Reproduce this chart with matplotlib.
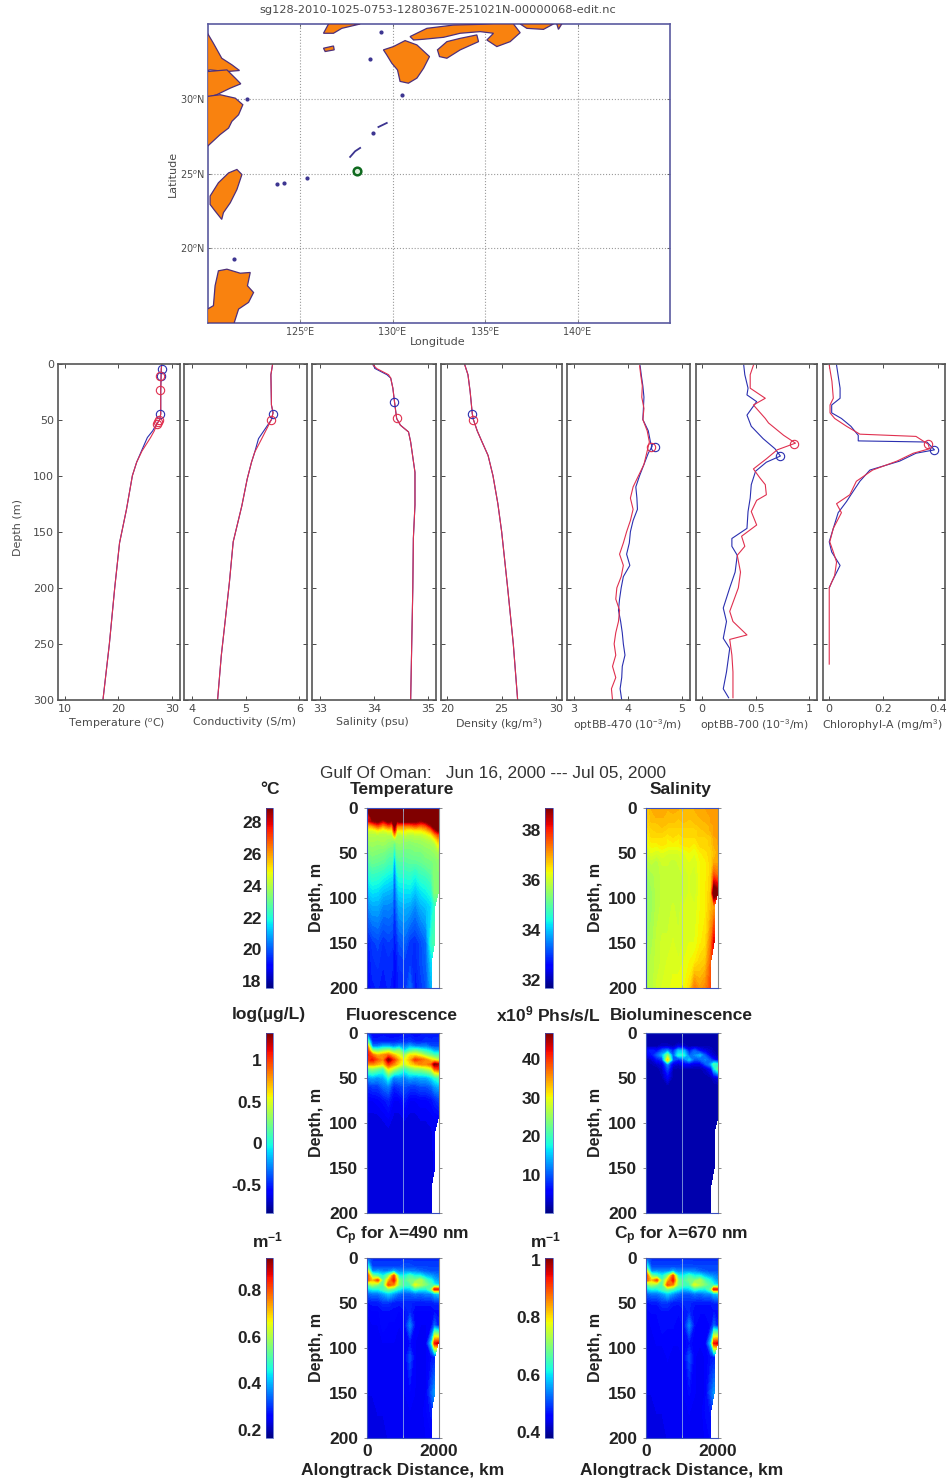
import numpy as np
import matplotlib
matplotlib.use("Agg")
import matplotlib.pyplot as plt
from matplotlib.cm import ScalarMappable
from matplotlib.colors import Normalize

plt.rcParams['font.family'] = ['Liberation Sans', 'DejaVu Sans']
plt.rcParams['mathtext.fontset'] = 'custom'
plt.rcParams['mathtext.rm'] = 'Liberation Sans'
plt.rcParams['mathtext.it'] = 'Liberation Sans:italic'
plt.rcParams['mathtext.bf'] = 'Liberation Sans:bold'

W, H = 947, 1481

# ---------- map data (lon, lat) ----------
land_n1_lon = [120.00,120.32,120.77,121.32,121.73,121.05,120.14,120.00]
land_n1_lat = [34.38,33.71,32.71,32.27,31.89,31.82,31.93,31.89]
land_n2_lon = [120.00,121.05,121.50,121.80,121.23,120.50,120.00]
land_n2_lat = [31.82,31.93,31.38,31.00,30.71,30.27,30.09]
land_n3_lon = [120.00,120.68,121.50,121.91,121.68,121.32,121.14,120.68,120.00]
land_n3_lat = [30.16,30.27,30.04,29.60,28.93,28.49,28.04,27.60,26.82]
taiwan_lon = [120.14,120.59,121.14,121.59,121.86,121.59,121.23,120.86,120.77,120.41,120.14]
taiwan_lat = [23.49,24.38,25.04,25.27,24.93,23.93,23.04,22.38,21.93,22.49,22.93]
luzon_lon = [120.59,121.05,121.77,122.31,122.16,122.49,122.22,121.68,121.44,120.00,120.00,120.32,120.41]
luzon_lat = [18.49,18.60,18.33,18.38,17.49,17.04,16.38,15.93,15.00,15.00,15.93,16.16,17.49]
kyushu_lon = [129.51,130.05,130.68,131.32,132.00,131.68,131.32,130.86,130.41,130.27,129.96,129.69]
kyushu_lat = [33.27,33.49,33.89,33.60,32.82,32.04,31.38,31.04,31.16,31.93,32.38,32.93]
honshu_lon = [130.95,131.86,133.30,135.46,136.54,136.90,136.36,135.64,135.10,135.46,134.74,133.66,132.76,131.68,131.14]
honshu_lat = [34.16,34.71,34.93,35.00,35.00,34.42,33.82,33.49,33.93,34.38,34.49,34.38,34.11,33.98,33.93]
shikoku_lon = [132.43,132.94,133.66,134.56,134.65,133.66,132.94,132.54]
shikoku_lat = [33.27,33.82,34.04,34.27,33.82,33.27,32.71,32.82]
korea_lon = [126.27,126.54,128.25,127.26,126.81]
korea_lat = [34.38,35.00,35.00,34.71,34.38]
jeju_lon = [126.27,126.81,126.85,126.36]
jeju_lat = [33.38,33.53,33.27,33.16]
kii_lon = [136.90,138.70,138.16,137.26]
kii_lat = [35.00,35.00,34.64,34.71]
izu_lon = [138.88,139.15,138.97]
izu_lat = [35.00,35.00,34.64]
isl_lon = [128.76,130.54,122.13,128.97,123.78,124.14,121.44,125.37,129.39]
isl_lat = [32.64,30.27,30.00,27.71,24.31,24.38,19.31,24.71,34.49]
okinawa_lon = [127.71,127.98,128.25]
okinawa_lat = [26.11,26.49,26.71]
amami_lon = [129.24,129.69]
amami_lat = [28.11,28.38]
glider_lon, glider_lat = [128.06], [25.17]

# ---------- profile data ----------
temp_depth = [0,5,24,45,50,55,60,66,78,88,100,130,160,200,250,300]
temp_blue = [28.1,28.0,27.9,27.9,27.7,27.0,26.4,25.4,24.3,23.4,22.6,21.5,20.2,19.3,18.3,17.1]
temp_red = [28.1,28.0,27.9,27.9,27.7,27.1,26.7,26.0,24.4,23.4,22.6,21.5,20.2,19.3,18.3,17.1]
temp_mark_blue = ([28.1,27.9,27.7], [5,11,45])
temp_mark_red = ([27.7,27.8,27.6,27.3,27.2], [11,24,50,52,54])
cond_depth = [1,10,37,44,50,67,79,88,103,127,159,195,230,260,300]
cond_blue = [5.50,5.47,5.48,5.51,5.48,5.24,5.17,5.11,5.03,4.93,4.77,4.70,4.62,4.55,4.48]
cond_red = [5.50,5.47,5.48,5.51,5.48,5.30,5.17,5.11,5.03,4.93,4.77,4.70,4.62,4.55,4.48]
cond_mark_blue = ([5.51], [45])
cond_mark_red = ([5.48], [50])
sal_depth = [1,4.5,10,13,22,34,49,55,61,70,97,126,156,200,300]
sal_blue = [33.98,34.02,34.24,34.31,34.35,34.38,34.42,34.49,34.64,34.68,34.76,34.76,34.73,34.72,34.68]
sal_red = [33.98,34.05,34.27,34.31,34.35,34.38,34.42,34.49,34.64,34.68,34.76,34.76,34.73,34.72,34.68]
sal_mark_blue = ([34.38], [34])
sal_mark_red = ([34.42], [49])
dens_depth = [1,10,25,45,50,60,70,82,100,125,150,200,250,300]
dens_values = [21.6,21.9,22.1,22.3,22.4,22.75,23.2,23.75,24.2,24.65,25.0,25.55,26.07,26.47]
dens_mark_blue = ([22.3], [45])
dens_mark_red = ([22.4], [50])
bb470_blue_d = [2,10,20,30,40,50,60,70,74,80,90,100,110,120,130,140,150,160,170,180,190,200,210,220,230,240,250,260,270,280,290,300]
bb470_blue = [4.23,4.25,4.28,4.30,4.29,4.28,4.38,4.42,4.45,4.38,4.30,4.22,4.15,4.17,4.18,4.10,4.05,4.03,3.98,4.04,3.92,3.88,3.85,3.83,3.87,3.90,3.92,3.95,3.90,3.89,3.86,3.89]
bb470_red = [4.22,4.24,4.27,4.26,4.30,4.28,4.36,4.40,4.38,4.35,4.30,4.20,4.10,4.05,4.10,4.05,3.98,3.92,3.85,3.92,3.88,3.80,3.78,3.85,3.83,3.78,3.75,3.78,3.72,3.78,3.70,3.72]
bb470_mark_blue = ([4.50], [74])
bb470_mark_red = ([4.43], [74])
bb700_red_d = [1.5,10,22,31,37,49,53,64,71,77,85,94,102,108,117,122,132,144,154,163,171,186,200,221,230,242,246,260,275,290,298]
bb700_red = [.48,.45,.45,.59,.48,.59,.62,.76,.87,.70,.60,.48,.54,.59,.60,.51,.46,.51,.37,.40,.33,.36,.34,.26,.29,.42,.26,.28,.29,.29,.29]
bb700_blue_d = [1.5,10,22,28,34,46,56,67,76,82.5,88,96,108,120,132,147,156,163,171,186,200,218,230,245,254,275,290,298]
bb700_blue = [.39,.40,.43,.42,.51,.42,.46,.57,.68,.73,.60,.50,.46,.45,.43,.42,.28,.28,.33,.31,.26,.20,.23,.20,.26,.23,.20,.25]
bb700_mark_blue = ([.73], [82.5])
bb700_mark_red = ([.86], [72])
chl_blue_d = [1.5,22,31,37,44,49,56,64,69,70,77,80,87,95,105,117,123,133,147,159,168,180,195,200]
chl_blue = [.027,.04,.04,.009,.009,.045,.08,.107,.107,.36,.388,.32,.26,.15,.113,.08,.064,.033,.015,0,.009,.04,.009,0]
chl_red_d = [1.5,16,31,37,44,49,56,63,65,72,76,80,87,95,105,117,125,133,147,159,168,177,189,200,268]
chl_red = [.0,.01,.015,.003,.003,.02,.064,.113,.32,.365,.37,.31,.25,.16,.10,.076,.027,.045,.015,.002,.015,.027,.02,0,0]
chl_mark_blue = ([.388], [77])
chl_mark_red = ([.365], [72])
depth_ticks = [0,50,100,150,200,250,300]

# ---------- section data ----------
section_x = [0,150,300,450,600,750,900,1050,1200,1350,1500,1650,1800,1890,1990]
temperature_x = [0,150,300,450,600,700,770,840,900,1050,1200,1350,1500,1650,1800,1890,1990]
section_d = [0,10,15,20,25,30,35,40,50,60,75,95,110,150,170,200]
n = np.nan
temperature = [
 [29.5,29.5,29.5,29.5,29.5,29.5,29.5,29.5,29.5,29.5,29.5,29.5,29.5,29.5,29.5,29.5,29.5],
 [26.5,29.5,29.5,29.5,29.5,29.5,29.5,29.5,29.5,29.5,29.5,29.5,29.5,29.5,29.5,29.5,29.5],
 [27.5,28.5,29,28,29,28.5,29.5,28.5,29,29,29,29,28.5,29,29.5,29.5,29.5],
 [25.5,26,27,26,27,26.5,29,26.5,26.5,26.5,26.5,27,26.5,27,28.5,29.5,29.5],
 [24.5,24.5,25,24.5,25,25,28,25,25,25,24.8,25,25,25.5,26.5,28,29],
 [24,24,24,24,24,24,26,24,24,24.3,24,24.2,24.2,24.5,25,26,27],
 [23.8,23.9,23.8,23.9,23.7,23.7,24,23.8,23.8,23.7,23.7,23.8,23.8,24,24.2,24.8,25.8],
 [23.6,23.7,23.6,23.7,23.5,23.4,22.8,23.5,23.6,23.5,23.4,23.5,23.6,23.7,23.8,24,25],
 [23.1,23.4,23.3,23.2,22.9,22.9,21.8,23,23.1,23,23.1,23.2,23.2,23.4,23.5,23.6,23.8],
 [22.6,23,22.9,22.8,22.5,22.5,20.8,22.5,22.7,22.7,22.8,22.8,22.9,23.1,23.2,23.3,23.5],
 [21.9,22.3,22.2,22,21.8,21.7,20.2,21.7,22.1,22.1,22.2,21.9,22.3,22.4,22.7,23.4,23.4],
 [21.1,21.5,21.4,21.1,21,20.9,19.8,20.9,21.4,21.5,21.5,21.1,21.5,21.7,22,23.3,23.3],
 [20.5,20.9,20.9,20.5,20.5,20.4,19.6,20.4,20.9,21,20.9,20.5,21,21.2,21.5,22.2,n],
 [19.2,19.6,19.8,19.5,19.7,19.6,19.2,19.5,19.9,20.1,19.6,19.5,19.8,20.2,22.3,22.6,n],
 [19,19.5,19.6,19.4,19.5,19.4,19,19.3,19.6,19.7,19.6,19.4,19.8,20.1,21.5,n,n],
 [18.8,19.3,19.4,19.2,19.4,19.3,18.9,19.2,19.4,19.4,20.2,19.2,19.6,19.9,21,n,n]]
salinity = [
 [36.6,36.9,37,37,36.9,37,36.9,36.8,36.8,36.9,36.9,37,37,37,37],
 [36.6,36.8,36.9,36.9,36.8,36.8,36.8,36.8,36.8,36.8,36.9,36.9,37,37,37],
 [36.5,36.8,36.8,36.8,36.8,36.8,36.7,36.8,36.7,36.8,36.8,36.9,37,37,37],
 [36.5,36.7,36.7,36.8,36.7,36.7,36.7,36.7,36.7,36.7,36.8,36.8,36.9,37,37],
 [36.4,36.6,36.7,36.7,36.6,36.6,36.6,36.6,36.6,36.6,36.7,36.8,36.9,37,37],
 [36.3,36.6,36.6,36.6,36.5,36.6,36.5,36.6,36.6,36.6,36.7,36.7,36.8,37,37],
 [36.2,36.5,36.5,36.5,36.4,36.5,36.4,36.5,36.5,36.5,36.6,36.6,36.7,36.9,37],
 [36.2,36.4,36.4,36.5,36.4,36.4,36.4,36.5,36.5,36.4,36.6,36.6,36.7,36.9,37],
 [36,36.2,36.1,36.2,36.1,36.1,36.1,36.2,36.3,36.2,36.4,36.5,36.6,36.8,36.9],
 [35.8,35.9,35.8,36,36,35.9,36,36.1,36.2,36.1,36.3,36.4,36.6,36.9,36.9],
 [35.6,35.7,35.8,35.9,35.9,35.9,35.9,36,36.1,36,36.3,36.4,36.6,37.6,37.4],
 [35.5,35.6,35.8,35.9,35.9,35.9,35.9,36,36.1,36,36.3,36.4,36.7,39.5,39],
 [35.5,35.6,35.8,35.9,35.9,36,35.9,36.1,36.1,36.1,36.3,36.4,36.8,37,n],
 [35.6,35.7,35.9,36,36,36.1,36,36.1,36.2,36.2,36.4,36.5,37.3,38.3,n],
 [35.6,35.8,35.9,36,36.1,36.1,36.1,36.2,36.3,36.4,36.6,36.7,37.5,n,n],
 [35.7,35.8,36,36.1,36.1,36.3,36.3,36.3,36.5,37.3,37,37.2,37.7,n,n]]
fluorescence = [
 [-.4,-.58,-.58,-.55,-.58,-.58,-.58,-.55,-.55,-.58,-.55,-.52,-.55,-.52,-.52],
 [.3,-.5,-.5,-.5,-.5,-.5,-.48,-.48,-.45,-.5,-.5,-.48,-.48,-.48,-.48],
 [.9,-.3,-.3,-.2,-.2,-.3,-.2,-.3,-.2,-.3,-.3,-.3,-.4,-.4,-.4],
 [1.1,.3,.2,.3,.4,.2,.3,-.1,.1,.2,.1,0,-.1,-.2,-.2],
 [1.1,.9,.7,.8,.9,.7,.5,.3,.6,.6,.5,.3,.2,.1,.1],
 [1.0,1.1,.9,.8,1.3,1.0,.7,.5,.7,1.0,.9,.8,.6,.5,.4],
 [.8,.8,.7,.6,1.0,.8,.6,.4,.6,.7,.8,.8,.9,1.3,1.2],
 [.2,.3,.2,.1,.6,.4,.2,.05,.2,.3,.3,.4,.5,.9,1.0],
 [-.25,-.2,-.25,-.2,.0,-.3,-.25,-.3,-.2,-.25,-.2,-.2,-.1,0,.1],
 [-.5,-.45,-.45,-.35,-.3,-.5,-.45,-.4,-.45,-.45,-.4,-.4,-.35,-.25,-.2],
 [-.6,-.6,-.58,-.55,-.5,-.6,-.6,-.52,-.6,-.6,-.58,-.58,-.55,-.5,-.45],
 [-.65,-.65,-.65,-.63,-.6,-.65,-.65,-.63,-.65,-.65,-.63,-.63,-.62,-.6,-.6],
 [-.66,-.66,-.66,-.65,-.65,-.66,-.66,-.65,-.66,-.66,-.65,-.65,-.64,-.62,n],
 [-.66,-.66,-.66,-.65,-.65,-.66,-.66,-.65,-.66,-.66,-.65,-.65,-.64,-.63,n],
 [-.66,-.66,-.66,-.65,-.65,-.66,-.66,-.65,-.66,-.66,-.65,-.65,-.64,n,n],
 [-.66,-.66,-.66,-.66,-.66,-.66,-.66,-.66,-.66,-.66,-.66,-.66,-.65,n,n]]
biolum = [
 [1.5,1.5,1.5,1.5,1.5,1.5,1.5,1.5,1.5,1.5,1.5,1.5,1.5,1.5,1.5],
 [1.5,1.5,1.5,1.5,1.5,1.5,1.5,1.5,1.5,1.5,1.5,1.5,1.5,1.5,1.5],
 [2,2,2,3,3,2,4,3,2,2,2,2,2,2,2],
 [6,7,6,10,12,7,15,14,6,10,6,4,3,2,2],
 [4,6,10,14,24,9,18,18,10,12,14,9,4,3,2],
 [2,3,6,8,32,10,7,10,15,9,10,12,9,6,4],
 [1.5,2,3,4,12,4,3,5,5,4,4,9,13,20,18],
 [1.5,1.5,1.5,3,9,2,2,2,2,2,2,3,6,16,22],
 [1.5,1.5,1.5,2,5,1.5,1.5,1.5,1.5,1.5,1.5,1.5,2,3,4],
 [1.5,1.5,1.5,1.5,1.5,1.5,1.5,1.5,1.5,1.5,1.5,1.5,1.5,1.5,1.5],
 [1.5,1.5,1.5,1.5,1.5,1.5,1.5,1.5,1.5,1.5,1.5,1.5,1.5,1.5,1.5],
 [1.5,1.5,1.5,1.5,1.5,1.5,1.5,1.5,1.5,1.5,1.5,1.5,1.5,1.5,1.5],
 [1.5,1.5,1.5,1.5,1.5,1.5,1.5,1.5,1.5,1.5,1.5,1.5,1.5,1.5,n],
 [1.5,1.5,1.5,1.5,1.5,1.5,1.5,1.5,1.5,1.5,1.5,1.5,1.5,1.5,n],
 [1.5,1.5,1.5,1.5,1.5,1.5,1.5,1.5,1.5,1.5,1.5,1.5,1.5,n,n],
 [1.5,1.5,1.5,1.5,1.5,1.5,1.5,1.5,1.5,1.5,1.5,1.5,1.5,n,n]]
cp490 = [
 [.35,.29,.29,.29,.29,.29,.29,.29,.29,.29,.29,.29,.29,.29,.29],
 [.50,.31,.31,.31,.31,.31,.31,.32,.32,.31,.31,.31,.31,.31,.31],
 [.70,.36,.38,.36,.36,.40,.36,.37,.36,.36,.34,.33,.32,.32,.32],
 [.85,.55,.50,.45,.55,.80,.45,.45,.50,.45,.45,.40,.38,.36,.35],
 [.80,.70,.80,.50,.70,.85,.55,.50,.55,.55,.60,.50,.45,.40,.38],
 [.50,.60,.55,.50,.80,.75,.55,.50,.50,.65,.60,.55,.50,.45,.42],
 [.42,.45,.45,.50,.55,.50,.45,.40,.42,.48,.45,.45,.55,.85,.85],
 [.33,.35,.35,.38,.42,.38,.34,.33,.33,.35,.34,.36,.36,.40,.42],
 [.27,.28,.28,.30,.30,.28,.28,.29,.29,.28,.28,.28,.28,.29,.29],
 [.25,.26,.26,.27,.27,.27,.26,.27,.29,.26,.26,.26,.26,.27,.27],
 [.24,.25,.25,.27,.26,.26,.25,.26,.36,.26,.25,.25,.26,.33,.28],
 [.24,.24,.25,.25,.25,.25,.25,.25,.27,.25,.25,.25,.42,.85,.88],
 [.24,.24,.24,.24,.25,.24,.24,.25,.32,.25,.24,.25,.27,.28,n],
 [.24,.24,.24,.24,.24,.24,.24,.25,.26,.25,.24,.25,.33,.38,n],
 [.23,.23,.24,.24,.24,.24,.24,.24,.25,.24,.24,.26,.28,n,n],
 [.23,.23,.23,.23,.24,.24,.24,.24,.24,.24,.24,.25,.26,n,n]]
cp670 = [
 [.53,.48,.48,.48,.48,.48,.48,.48,.48,.48,.48,.48,.48,.48,.48],
 [.65,.50,.50,.50,.50,.50,.50,.505,.505,.50,.50,.50,.50,.50,.50],
 [.81,.54,.55,.54,.54,.57,.54,.545,.54,.54,.52,.51,.505,.505,.505],
 [.935,.69,.65,.61,.69,.895,.61,.61,.65,.61,.61,.57,.55,.54,.53],
 [.895,.81,.895,.65,.81,.935,.69,.65,.69,.69,.73,.65,.61,.57,.55],
 [.65,.73,.69,.65,.895,.85,.69,.65,.65,.77,.73,.69,.65,.61,.585],
 [.585,.61,.61,.65,.69,.65,.61,.57,.585,.635,.61,.61,.69,.935,.935],
 [.51,.53,.53,.55,.585,.55,.52,.51,.51,.53,.52,.54,.54,.57,.585],
 [.465,.47,.47,.49,.49,.47,.47,.48,.48,.47,.47,.47,.47,.48,.48],
 [.45,.46,.46,.465,.465,.465,.46,.465,.48,.46,.46,.46,.46,.465,.465],
 [.44,.45,.45,.465,.46,.46,.45,.46,.54,.46,.45,.45,.46,.51,.47],
 [.44,.44,.45,.45,.45,.45,.45,.45,.465,.45,.45,.45,.585,.935,.96],
 [.44,.44,.44,.44,.45,.44,.44,.45,.505,.45,.44,.45,.465,.47,n],
 [.44,.44,.44,.44,.44,.44,.44,.45,.46,.45,.44,.45,.51,.55,n],
 [.43,.43,.44,.44,.44,.44,.44,.44,.45,.44,.44,.46,.47,n,n],
 [.43,.43,.43,.43,.44,.44,.44,.44,.44,.44,.44,.45,.46,n,n]]

temp_cticks = [18,20,22,24,26,28]
sal_cticks = [32,34,36,38]
fluo_cticks = [-0.5,0,0.5,1]
fluo_clabels = ['-0.5','0','0.5','1']
bio_cticks = [10,20,30,40]
cp490_cticks = [0.2,0.4,0.6,0.8]
cp670_cticks = [0.4,0.6,0.8,1]
cp670_clabels = ['0.4','0.6','0.8','1']

# ---------- helpers ----------
fig = plt.figure(figsize=(W/100, H/100), dpi=100, facecolor='white')

def ax_px(l, t, r, b):
    return fig.add_axes([l/W, 1-b/H, (r-l)/W, (b-t)/H])

def text_px(x, y, s, **kw):
    kw.setdefault('ha', 'center')
    kw.setdefault('va', 'center')
    return fig.text(x/W, 1-y/H, s, **kw)

GRAY = '#4a4a4a'
BLUE = '#2a2fb0'
RED = '#e0304f'
SMALL = 'DejaVu Sans'

# ---------- map ----------
ax = ax_px(207.5, 24, 670, 323)
ax.set_xlim(120, 145)
ax.set_ylim(15, 35)
polys = [(land_n1_lon, land_n1_lat), (land_n2_lon, land_n2_lat), (land_n3_lon, land_n3_lat),
         (taiwan_lon, taiwan_lat), (luzon_lon, luzon_lat), (kyushu_lon, kyushu_lat),
         (honshu_lon, honshu_lat), (shikoku_lon, shikoku_lat), (korea_lon, korea_lat),
         (jeju_lon, jeju_lat), (kii_lon, kii_lat), (izu_lon, izu_lat)]
for lo, la in polys:
    ax.fill(lo, la, facecolor='#f9820f', edgecolor='#4d2f7a', linewidth=0.9, zorder=3)
ax.plot(isl_lon, isl_lat, ls='none', marker='o', ms=2, color='#3c3490', zorder=3)
ax.plot(okinawa_lon, okinawa_lat, color='#3c3490', lw=1.3, zorder=3)
ax.plot(amami_lon, amami_lat, color='#3c3490', lw=1.3, zorder=3)
ax.plot(glider_lon, glider_lat, ls='none', marker='o', ms=5.5, mfc='#dff0df', mec='#0f6a1f', mew=1.8, zorder=4)
ax.set_xticks([125, 130, 135, 140])
ax.set_xticklabels(['125$^o$E', '130$^o$E', '135$^o$E', '140$^o$E'])
ax.set_yticks([20, 25, 30])
ax.set_yticklabels(['20$^o$N', '25$^o$N', '30$^o$N'])
ax.tick_params(labelsize=7, colors=GRAY, length=2, width=0.5, direction='in', pad=2, right=True, top=True,
               labelfontfamily=SMALL)
ax.grid(True, color='#9a9a9a', ls=':', lw=0.8)
for s in ax.spines.values():
    s.set_color('#5a5aa0'); s.set_linewidth(1.2)
text_px(438, 10, 'sg128-2010-1025-0753-1280367E-251021N-00000068-edit.nc', fontsize=8.2, color=GRAY, family=SMALL)
text_px(438, 342, 'Longitude', fontsize=8, color=GRAY, family=SMALL)
text_px(173, 174, 'Latitude', fontsize=8, color=GRAY, rotation=90, family=SMALL)

# ---------- profiles ----------
profiles = [
 (58, 180, (8.7, 31.5), [10, 20, 30], ['10', '20', '30'], 'Temperature ($^o$C)', 117, 724,
  [(temp_depth, temp_blue, BLUE), (temp_depth, temp_red, RED)], temp_mark_blue, temp_mark_red),
 (184, 307, (3.857, 6.14), [4, 5, 6], ['4', '5', '6'], 'Conductivity (S/m)', 244, 722,
  [(cond_depth, cond_blue, BLUE), (cond_depth, cond_red, RED)], cond_mark_blue, cond_mark_red),
 (312, 436, (32.85, 35.15), [33, 34, 35], ['33', '34', '35'], 'Salinity (psu)', 372, 722,
  [(sal_depth, sal_blue, BLUE), (sal_depth, sal_red, RED)], sal_mark_blue, sal_mark_red),
 (441, 562, (19.42, 30.55), [20, 25, 30], ['20', '25', '30'], 'Density (kg/m$^3$)', 499, 724,
  [(dens_depth, dens_values, BLUE), (dens_depth, dens_values, RED)], dens_mark_blue, dens_mark_red),
 (567, 690, (2.88, 5.15), [3, 4, 5], ['3', '4', '5'], 'optBB-470 (10$^{-3}$/m)', 627, 725,
  [(bb470_blue_d, bb470_blue, BLUE), (bb470_blue_d, bb470_red, RED)], bb470_mark_blue, bb470_mark_red),
 (696, 817, (-0.053, 1.07), [0, 0.5, 1], ['0', '0.5', '1'], 'optBB-700 (10$^{-3}$/m)', 754, 725,
  [(bb700_blue_d, bb700_blue, BLUE), (bb700_red_d, bb700_red, RED)], bb700_mark_blue, bb700_mark_red),
 (823, 945, (-0.023, 0.427), [0, 0.2, 0.4], ['0', '0.2', '0.4'], 'Chlorophyl-A (mg/m$^3$)', 882, 725,
  [(chl_blue_d, chl_blue, BLUE), (chl_red_d, chl_red, RED)], chl_mark_blue, chl_mark_red),
]
for i, (l, r, xl, xt, xtl, lab, lx, ly, lines, mb, mr) in enumerate(profiles):
    ax = ax_px(l, 363.5, r, 700)
    ax.set_xlim(*xl)
    ax.set_ylim(300, 0)
    for d, v, c in lines:
        ax.plot(v, d, color=c, lw=0.8)
    ax.plot(mb[0], mb[1], ls='none', marker='o', ms=6, mfc='none', mec=BLUE, mew=0.8)
    ax.plot(mr[0], mr[1], ls='none', marker='o', ms=6, mfc='none', mec=RED, mew=0.8)
    ax.set_xticks(xt)
    ax.set_xticklabels(xtl)
    ax.set_yticks(depth_ticks)
    if i > 0:
        ax.set_yticklabels([])
    ax.tick_params(labelsize=8, colors=GRAY, length=3, width=0.7, direction='in', top=True, right=True, pad=3,
                   labelfontfamily=SMALL)
    for s in ax.spines.values():
        s.set_color('#555555'); s.set_linewidth(1.2)
    text_px(lx, ly, lab, fontsize=7.9, color=GRAY, family=SMALL)
text_px(18, 528, 'Depth (m)', fontsize=8, color=GRAY, rotation=90, family=SMALL)

# ---------- sections ----------
text_px(492.5, 773, 'Gulf Of Oman:   Jun 16, 2000 --- Jul 05, 2000', fontsize=12.4, color='#333333')

sections = [
 (temperature_x, temperature, (17.6, 28.9), 807.7, 987.7, 367, 438.5, 265.8, 273.4, temp_cticks, None, 'Temperature', 402, 790, '°C', 270, 790),
 (section_x, salinity, (31.7, 38.9), 807.7, 987.7, 646, 718, 545, 552.6, sal_cticks, None, 'Salinity', 681, 790, None, 0, 0),
 (section_x, fluorescence, (-0.836, 1.327), 1032.7, 1213, 367, 438.5, 265.8, 273.4, fluo_cticks, fluo_clabels, 'Fluorescence', 402, 1015, 'log(µg/L)', 269, 1015),
 (section_x, biolum, (0, 46.85), 1032.7, 1213, 646, 718, 545, 552.6, bio_cticks, None, 'Bioluminescence', 681, 1015, 'x10$^{\\mathbf{9}}$ Phs/s/L', 548, 1014),
 (section_x, cp490, (0.166, 0.939), 1257.7, 1438, 367, 438.5, 265.8, 273.4, cp490_cticks, None, '$\\mathbf{C_p}$ for λ=490 nm', 402, 1235, 'm$^{\\mathbf{-1}}$', 268, 1240),
 (section_x, cp670, (0.38, 1.008), 1257.7, 1438, 646, 718, 545, 552.6, cp670_cticks, cp670_clabels, '$\\mathbf{C_p}$ for λ=670 nm', 681, 1235, 'm$^{\\mathbf{-1}}$', 546, 1240),
]
BOLD = 12.5
for k, (X, Z, cl, t, b, l, r, cl_l, cl_r, ct, ctl, title, tx, ty, unit, ux, uy) in enumerate(sections):
    ax = ax_px(l, t, r, b)
    levels = np.linspace(cl[0], cl[1], 65)
    ax.contourf(X, section_d, np.array(Z, float), levels=levels, cmap='jet', extend='both')
    ax.axvline(1000, color='#a8c8e8', lw=0.6, alpha=0.8)
    ax.set_xlim(0, 2000)
    ax.set_ylim(200, 0)
    ax.set_yticks([0, 50, 100, 150, 200])
    ax.set_xticks([0, 1000, 2000])
    ax.set_xticklabels(['0', '', '2000'] if k >= 4 else ['', '', ''])
    ax.tick_params(axis='y', length=2.5, width=0.6, color='#777777', direction='out', right=True, pad=4,
                   labelsize=BOLD, labelcolor='#222222')
    ax.tick_params(axis='x', length=2, width=0.6, color='#777777', direction='in', top=True, pad=4,
                   labelsize=BOLD, labelcolor='#222222')
    for lbl in ax.get_yticklabels() + ax.get_xticklabels():
        lbl.set_fontweight('bold')
    for name, s in ax.spines.items():
        s.set_linewidth(0.8)
        s.set_color('#3a50c0' if name in ('left', 'top', 'bottom') else '#888888')
    cax = ax_px(cl_l, t, cl_r, b)
    sm = ScalarMappable(norm=Normalize(*cl), cmap='jet')
    cb = fig.colorbar(sm, cax=cax)
    cb.set_ticks(ct)
    cax.yaxis.set_ticks_position('left')
    if ctl is not None:
        cb.set_ticklabels(ctl)
    cax.tick_params(length=0, pad=3, labelsize=BOLD, labelcolor='#222222')
    for lbl in cax.get_yticklabels():
        lbl.set_fontweight('bold')
    cb.outline.set_edgecolor('#3a50c0')
    cb.outline.set_linewidth(0.5)
    text_px(tx, ty, title, fontsize=BOLD, fontweight='bold', color='#222222')
    if unit:
        text_px(ux, uy, unit, fontsize=BOLD, fontweight='bold', color='#222222')
    text_px(l-51, (t+b)/2, 'Depth, m', fontsize=11.6, fontweight='bold', color='#222222', rotation=90)
    if k >= 4:
        text_px((l+r)/2, 1470, 'Alongtrack Distance, km', fontsize=BOLD, fontweight='bold', color='#222222')

fig.savefig('out.png', dpi=100, facecolor='white')
